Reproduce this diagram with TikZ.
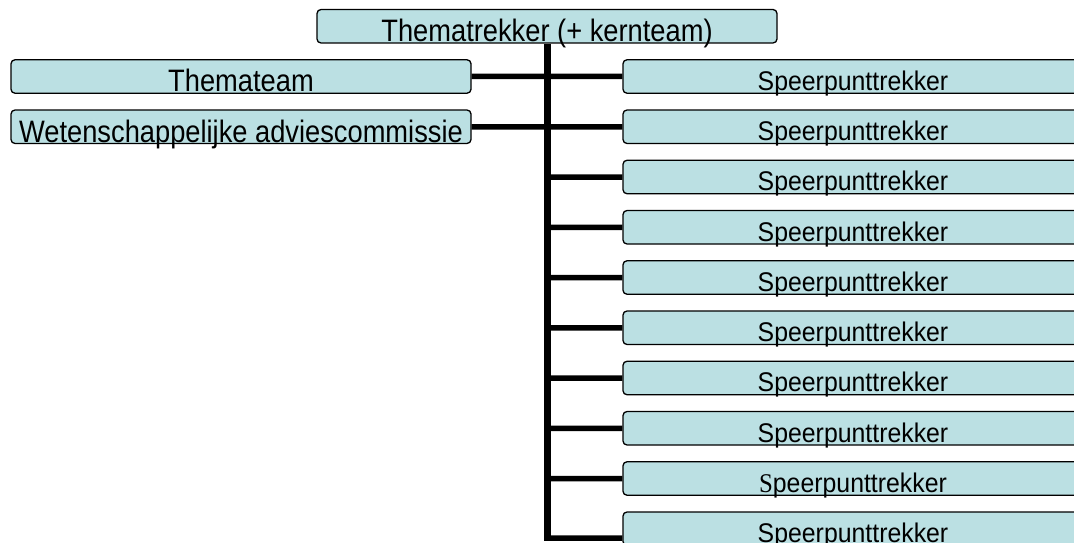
\documentclass[tikz,border=0pt]{standalone}
\usepackage{fontspec}
\setmainfont{Liberation Sans}
\newfontfamily\boxfont{Liberation Sans}[FakeStretch=0.88]
\newfontfamily\spfont{Liberation Sans}[FakeStretch=0.92]
\newfontfamily\serifletter{Liberation Serif}[FakeStretch=0.92]
\usetikzlibrary{positioning}

\definecolor{boxfill}{RGB}{187,224,227}

\tikzset{
	box/.style={draw=black, line width=1.3pt, fill=boxfill, rounded corners=4pt,
		minimum width=460pt, inner sep=0pt, text height=32pt, text depth=1.5pt,
		font=\boxfont\fontsize{31}{34}\selectfont},
	spbox/.style={box, text height=30.5pt, text depth=3pt,
		font=\spfont\fontsize{27}{30}\selectfont},
	trunk/.style={line width=7pt},
	branch/.style={line width=5.5pt},
}

\begin{document}
\begin{tikzpicture}[x=1pt, y=-1pt, node distance=15.45pt]
	\useasboundingbox (0,0) rectangle (1074,543);
	\clip (0,0) rectangle (1074,543);
	\node (top) [box] at (547,26.25) {Thematrekker (+ kernteam)};
	\node (thema) [box] at (241,76.5) {Themateam};
	\node (wac) [box] at (241,126.75) {Wetenschappelijke adviescommissie};
	\node (sp1) [spbox] at (853,76.5) {Speerpunttrekker};
	\node (sp2) [spbox, below=of sp1] {Speerpunttrekker};
	\node (sp3) [spbox, below=of sp2] {Speerpunttrekker};
	\node (sp4) [spbox, below=of sp3] {Speerpunttrekker};
	\node (sp5) [spbox, below=of sp4] {Speerpunttrekker};
	\node (sp6) [spbox, below=of sp5] {Speerpunttrekker};
	\node (sp7) [spbox, below=of sp6] {Speerpunttrekker};
	\node (sp8) [spbox, below=of sp7] {Speerpunttrekker};
	\node (sp9) [spbox, below=of sp8] {{\serifletter S}peerpunttrekker};
	\node (sp10) [spbox, below=of sp9] {Speerpunttrekker};
	\coordinate (tend) at (547,538);
	\draw [trunk] (top.south) -- ([yshift=-3pt]tend);
	\draw [branch]
		(thema.east) -- (sp1.west)
		(wac.east) -- (sp2.west)
		(top.south |- sp3.west) -- (sp3.west)
		(top.south |- sp4.west) -- (sp4.west)
		(top.south |- sp5.west) -- (sp5.west)
		(top.south |- sp6.west) -- (sp6.west)
		(top.south |- sp7.west) -- (sp7.west)
		(top.south |- sp8.west) -- (sp8.west)
		(top.south |- sp9.west) -- (sp9.west)
		(tend) -- (tend -| sp10.west)
	;
\end{tikzpicture}
\end{document}
